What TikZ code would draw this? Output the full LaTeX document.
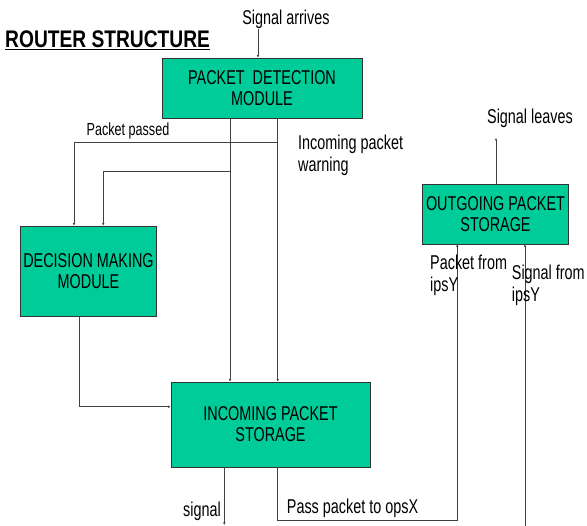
\documentclass[tikz,border=0pt]{standalone}
\usepackage{fontspec}
\setmainfont[FakeStretch=0.72]{Liberation Sans}
\newfontfamily\titlefont[FakeStretch=0.8]{Liberation Sans}
\usetikzlibrary{arrows.meta}
\definecolor{boxgreen}{RGB}{0,204,153}
\begin{document}
\begin{tikzpicture}[x=1pt,y=-1pt,
  box/.style={draw=black!80, fill=boxgreen, line width=0.8pt, inner sep=0pt, align=center,
              font=\fontsize{20}{21}\selectfont},
  lbl/.style={inner sep=0pt, font=\fontsize{20}{22}\selectfont},
  conn/.style={draw=black!75, line width=0.8pt, -{Latex[length=2.5pt,width=2.5pt]}}]
\useasboundingbox (0,0) rectangle (587,526);

% title
\node[anchor=west, inner sep=0pt, font=\titlefont\fontsize{24}{28}\selectfont\bfseries] (title) at (5,40) {\underline{ROUTER STRUCTURE}};

% boxes
\node[box, minimum width=200pt, minimum height=60pt] (PDM) at (262,88) {PACKET\ \ DETECTION\\MODULE};
\node[box, minimum width=136pt, minimum height=90pt] (DEC) at (88.5,271) {DECISION MAKING\\MODULE};
\node[box, minimum width=199pt, minimum height=85pt] (INC) at (270.5,424.5) {INCOMING PACKET\\STORAGE};
\node[box, minimum width=146pt, minimum height=60pt] (OUT) at (495.5,214) {OUTGOING PACKET\\STORAGE};

% coordinates
\coordinate (a1) at (230,0);
\coordinate (a2) at (277.7,0);
\coordinate (j1) at (277.7,142.3);
\coordinate (j2) at (230,171.7);
\coordinate (sa) at (258,29);
\coordinate (sl) at (496,138);
\coordinate (s1) at (224.3,525);
\coordinate (p1) at (457.3,520);
\coordinate (sf) at (525,526);

% connectors
\draw[conn] (sa) -- (PDM.north -| sa);
\draw[conn] (PDM.south -| a1) -- (INC.north -| a1);
\draw[conn] (PDM.south -| a2) -- (INC.north -| a2);
\draw[conn] (j1) -| ([xshift=-14.5pt]DEC.north);
\draw[conn] (j2) -| ([xshift=14.8pt]DEC.north);
\draw[conn] ([xshift=-9.5pt]DEC.south) |- ([yshift=17.8pt]INC.west);
\draw[conn] (INC.south -| s1) -- (s1);
\draw[conn] (INC.south -| a2) |- (p1) -- (OUT.south -| p1);
\draw[conn] (sf) -- (OUT.south -| sf);
\draw[conn] (OUT.north -| sl) -- (sl);

% labels
\node[lbl] (lsa) at (286,19) {Signal arrives};
\node[lbl, font=\fontsize{17.5}{19}\selectfont] (lpp) at (128,131) {Packet passed};
\node[lbl, align=left, anchor=north west] (lin) at (298,135) {Incoming packet\\warning};
\node[lbl] (lsl) at (530,118) {Signal leaves};
\node[lbl, align=left, anchor=north west] (lpf) at (430,255) {Packet from\\ipsY};
\node[lbl, align=left, anchor=north west] (lsf) at (511.7,265) {Signal from\\ipsY};
\node[lbl, anchor=east] (lsg) at (221,511) {signal};
\node[lbl, anchor=west] (lpx) at (286.7,508) {Pass packet to opsX};
\end{tikzpicture}
\end{document}
